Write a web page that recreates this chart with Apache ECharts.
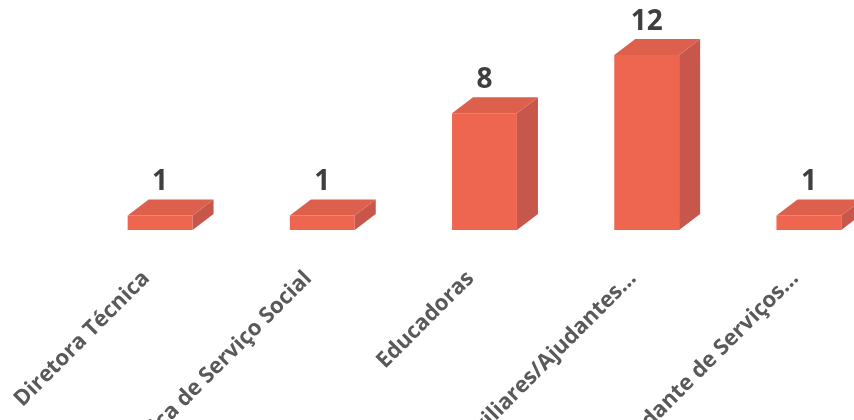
<!DOCTYPE html>
<html>
<head>
<meta charset="utf-8">
<script src="https://cdn.jsdelivr.net/npm/echarts@6/dist/echarts.min.js"></script>
<style>html,body{margin:0;padding:0;background:#fff;}#c{width:854px;height:420px;}</style>
</head>
<body>
<div id="c"></div>
<script>
var categories = ["Diretora Técnica", "Técnica de Serviço Social", "Educadoras", "Auxiliares/Ajudantes...", "Ajudante de Serviços..."];
var values = [1, 1, 8, 12, 1];

var chart = echarts.init(document.getElementById('c'), null, {renderer: 'canvas'});
var DX = 21, DY = 16;
function renderBar(params, api) {
  var v = api.value(1);
  var base = api.coord([api.value(0), 0]);
  var top = api.coord([api.value(0), v]);
  var w = api.size([1, 0])[0] * 0.4;
  var cx = base[0] + 14;
  var x0 = cx - w / 2, x1 = cx + w / 2;
  var yb = base[1], yt = top[1];
  return {
    type: 'group',
    children: [
      {type: 'polygon', shape: {points: [[x0, yb], [x1, yb], [x1, yt], [x0, yt]]}, style: {fill: '#EF6650'}},
      {type: 'polygon', shape: {points: [[x1, yb], [x1 + DX, yb - DY], [x1 + DX, yt - DY], [x1, yt]]}, style: {fill: '#C6574A'}},
      {type: 'polygon', shape: {points: [[x0, yt], [x1, yt], [x1 + DX, yt - DY], [x0 + DX, yt - DY]]}, style: {fill: '#DC604C'}},
      {type: 'text', style: {text: String(v), x: cx, y: yt - DY - 3, align: 'center', verticalAlign: 'bottom', fill: '#3F3F3F', font: 'bold 28px "Open Sans", sans-serif'}}
    ]
  };
}
chart.setOption({
  animation: false,
  grid: {left: 65, right: -22, top: 55, bottom: 190, containLabel: false, outerBoundsMode: 'none'},
  xAxis: {
    type: 'category',
    data: categories,
    axisLine: {show: false},
    axisTick: {show: false},
    axisLabel: {interval: 0, rotate: 45, margin: 45, color: '#595959', fontSize: 22, fontWeight: 'bold', fontFamily: '"Open Sans", sans-serif'}
  },
  yAxis: {type: 'value', min: 0, max: 12, show: false, splitLine: {show: false}},
  series: [{
    type: 'custom',
    renderItem: renderBar,
    encode: {x: 0, y: 1},
    data: categories.map(function (c, i) { return [i, values[i]]; }),
    clip: false
  }]
});
</script>
</body>
</html>
